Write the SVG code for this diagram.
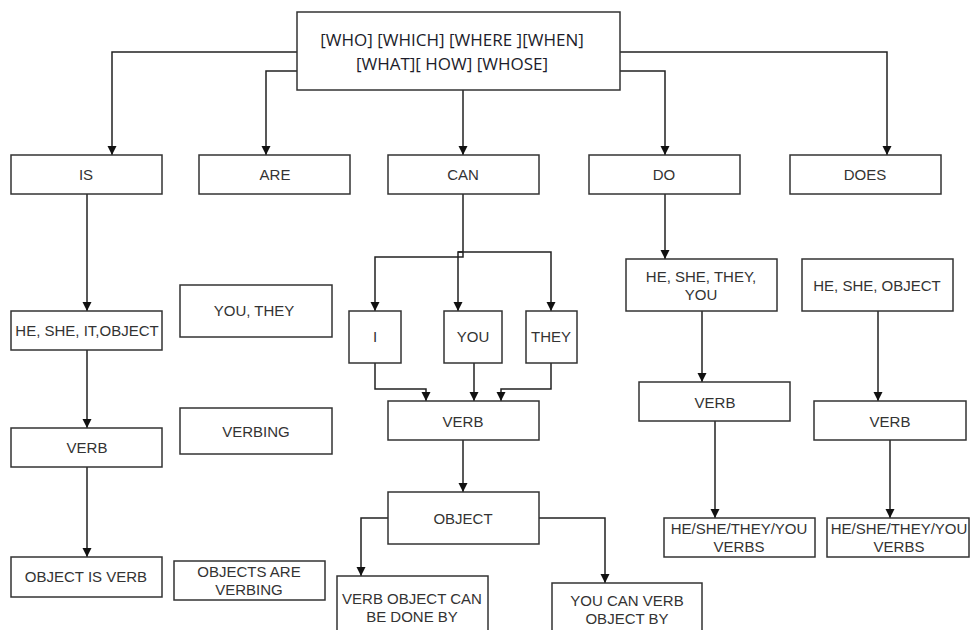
<svg xmlns="http://www.w3.org/2000/svg" width="971" height="630" viewBox="0 0 971 630">
<defs>
<marker id="arr" markerWidth="12" markerHeight="12" refX="10" refY="6" orient="auto" markerUnits="userSpaceOnUse">
<path d="M1,1.5 L10,6 L1,10.5 Z" fill="#111"/>
</marker>
<style>
.box{fill:#fff;stroke:#333;stroke-width:1.5}
.t{font-family:"Liberation Sans",Arial,sans-serif;font-size:15px;fill:#333;text-anchor:middle}
.top{font-family:"Open Sans","Liberation Sans",sans-serif;font-size:17px;fill:#1c1c2a;text-anchor:middle}
.c{fill:none;stroke:#222;stroke-width:1.5;marker-end:url(#arr)}
</style>
</defs>
<rect width="971" height="630" fill="#fff"/>
<g id="connectors">
<path class="c" d="M297,52 H112 V155"/>
<path class="c" d="M297,71 H266 V155"/>
<path class="c" d="M463,90 V155"/>
<path class="c" d="M620,71 H665 V155"/>
<path class="c" d="M620,52 H887 V155"/>
<path class="c" d="M87,194 V311"/>
<path class="c" d="M87,350 V428"/>
<path class="c" d="M87,467 V557"/>
<path class="c" d="M463,194 V257 H375 V311"/>
<path class="c" d="M463,252 H458 V311"/>
<path class="c" d="M458,252 H551 V311"/>
<path class="c" d="M375,363 V389 H426 V401"/>
<path class="c" d="M474,363 V401"/>
<path class="c" d="M551,363 V389 H501 V401"/>
<path class="c" d="M463,440 V492"/>
<path class="c" d="M388,518 H361 V576"/>
<path class="c" d="M539,518 H605 V583"/>
<path class="c" d="M665,194 V259"/>
<path class="c" d="M702,311 V382"/>
<path class="c" d="M715,421 V518"/>
<path class="c" d="M878,311 V401"/>
<path class="c" d="M890,440 V518"/>
</g>
<g id="top">
<rect class="box" x="297" y="12" width="323" height="78"/>
<text class="top" x="452" y="46">[WHO] [WHICH] [WHERE ][WHEN]</text>
<text class="top" x="452" y="70">[WHAT][ HOW] [WHOSE]</text>
</g>
<g id="is"><rect class="box" x="11" y="155" width="151" height="39"/><text class="t" x="86" y="180">IS</text></g>
<g id="are"><rect class="box" x="199" y="155" width="151" height="39"/><text class="t" x="275" y="180">ARE</text></g>
<g id="can"><rect class="box" x="388" y="155" width="151" height="39"/><text class="t" x="463" y="180">CAN</text></g>
<g id="do"><rect class="box" x="589" y="155" width="151" height="39"/><text class="t" x="664" y="180">DO</text></g>
<g id="does"><rect class="box" x="790" y="155" width="151" height="39"/><text class="t" x="865" y="180">DOES</text></g>
<g id="heshe"><rect class="box" x="11" y="311" width="151" height="39"/><text class="t" x="87" y="336">HE, SHE, IT,OBJECT</text></g>
<g id="youthey"><rect class="box" x="180" y="285" width="152" height="52"/><text class="t" x="254" y="316">YOU, THEY</text></g>
<g id="verb1"><rect class="box" x="11" y="428" width="151" height="39"/><text class="t" x="87" y="453">VERB</text></g>
<g id="verbing"><rect class="box" x="180" y="408" width="152" height="46"/><text class="t" x="256" y="437">VERBING</text></g>
<g id="objisverb"><rect class="box" x="11" y="557" width="151" height="40"/><text class="t" x="86" y="582">OBJECT IS VERB</text></g>
<g id="objsareverbing"><rect class="box" x="174" y="561" width="151" height="39"/><text class="t" x="249" y="577">OBJECTS ARE</text><text class="t" x="249" y="595">VERBING</text></g>
<g id="i"><rect class="box" x="349" y="311" width="52" height="52"/><text class="t" x="375" y="342">I</text></g>
<g id="you"><rect class="box" x="444" y="311" width="58" height="52"/><text class="t" x="473" y="342">YOU</text></g>
<g id="they"><rect class="box" x="526" y="311" width="51" height="52"/><text class="t" x="551" y="342">THEY</text></g>
<g id="verb2"><rect class="box" x="388" y="401" width="151" height="39"/><text class="t" x="463" y="427">VERB</text></g>
<g id="object"><rect class="box" x="388" y="492" width="151" height="52"/><text class="t" x="463" y="524">OBJECT</text></g>
<g id="verbobjcan"><rect class="box" x="337" y="576" width="151" height="70"/><text class="t" x="412" y="604">VERB OBJECT CAN</text><text class="t" x="412" y="622">BE DONE BY</text></g>
<g id="youcanverb"><rect class="box" x="552" y="583" width="150" height="70"/><text class="t" x="627" y="606">YOU CAN VERB</text><text class="t" x="627" y="624">OBJECT BY</text></g>
<g id="heshetheyyou"><rect class="box" x="626" y="259" width="151" height="52"/><text class="t" x="701" y="282">HE, SHE, THEY,</text><text class="t" x="701" y="300">YOU</text></g>
<g id="hesheobject"><rect class="box" x="802" y="259" width="151" height="52"/><text class="t" x="877" y="291">HE, SHE, OBJECT</text></g>
<g id="verb3"><rect class="box" x="639" y="382" width="151" height="39"/><text class="t" x="715" y="408">VERB</text></g>
<g id="verb4"><rect class="box" x="814" y="401" width="152" height="39"/><text class="t" x="890" y="427">VERB</text></g>
<g id="verbs1"><rect class="box" x="664" y="518" width="151" height="39"/><text class="t" x="739" y="534">HE/SHE/THEY/YOU</text><text class="t" x="739" y="552">VERBS</text></g>
<g id="verbs2"><rect class="box" x="827" y="518" width="142" height="39"/><text class="t" x="899" y="534">HE/SHE/THEY/YOU</text><text class="t" x="899" y="552">VERBS</text></g>
</svg>
